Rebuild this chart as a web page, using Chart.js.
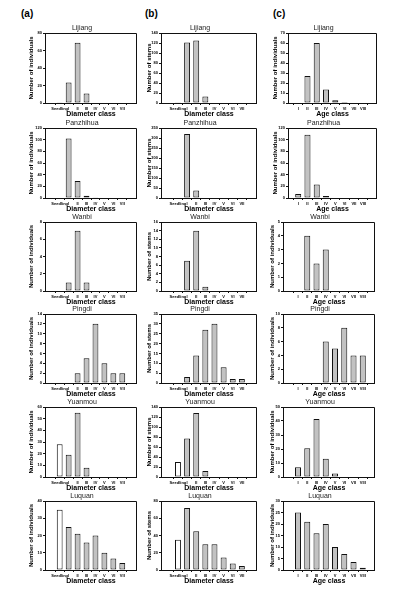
<!DOCTYPE html>
<html><head><meta charset="utf-8">
<script src="https://cdn.jsdelivr.net/npm/chart.js@4.4.1/dist/chart.umd.min.js"></script>
<style>
html,body{margin:0;padding:0;background:#fff;width:393px;height:600px;overflow:hidden;position:relative;}
.panel{position:absolute;font:bold 10px "Liberation Sans",Arial,sans-serif;line-height:12px;color:#000;}
canvas{position:absolute;}
</style></head><body>
<div class="panel" style="left:21px;top:8px">(a)</div>
<div class="panel" style="left:145px;top:8px">(b)</div>
<div class="panel" style="left:273px;top:8px">(c)</div>
<script>
const sites = ["Lijiang","Panzhihua","Wanbi","Pingdi","Yuanmou","Luquan"];
const diameterClasses = ["Seedling","I","II","III","IV","V","VI","VII"];
const ageClasses = ["I","II","III","IV","V","VI","VII","VIII"];

// (a) number of individuals per diameter class
const lijiangIndDiam   = [1, 23.5, 69, 11, 0.5, 0, 0, 0];
const panzhihuaIndDiam = [0, 102, 29, 4, 1.5, 0, 0, 0];
const wanbiIndDiam     = [0, 1, 7, 1, 0, 0, 0, 0];
const pingdiIndDiam    = [0, 0, 2, 5, 12, 4, 2, 2];
const yuanmouIndDiam   = [28, 19, 55, 8, 0, 0, 0, 0];
const luquanIndDiam    = [35, 25, 21, 16, 20, 10, 6.7, 4];
// (b) number of stems per diameter class
const lijiangStems   = [0.5, 121, 125, 13, 1, 0, 0, 0];
const panzhihuaStems = [0, 320, 37, 0, 0, 0, 0, 0];
const wanbiStems     = [0, 7, 14, 1, 0, 0, 0, 0];
const pingdiStems    = [0, 3, 14, 27, 30, 8, 2, 2];
const yuanmouStems   = [30, 77, 128, 12, 0, 0, 0, 0];
const luquanStems    = [35, 72, 45, 30, 30, 14.5, 7.5, 4.5];
// (c) number of individuals per age class
const lijiangAge   = [0, 27, 60, 13.5, 2.7, 1, 0, 0];
const panzhihuaAge = [7, 108.5, 23, 3.5, 0, 0, 0, 0];
const wanbiAge     = [0, 4, 2, 3, 0, 0, 0, 0];
const pingdiAge    = [0, 0, 0, 6, 5, 8, 4, 4];
const yuanmouAge   = [7, 20.5, 41.5, 13, 2.5, 0, 0, 0];
const luquanAge    = [25, 21, 16, 20, 10, 7, 3.5, 1];

// y-axis tick ranges
const indDiamMax  = [80, 120, 8, 14, 60, 40];
const indDiamStep = [20, 20, 2, 2, 10, 10];
const stemsMax    = [140, 350, 16, 35, 140, 80];
const stemsStep   = [20, 50, 2, 5, 20, 20];
const ageMax      = [70, 120, 5, 10, 50, 30];
const ageStep     = [10, 20, 1, 2, 10, 5];

const colA = [lijiangIndDiam, panzhihuaIndDiam, wanbiIndDiam, pingdiIndDiam, yuanmouIndDiam, luquanIndDiam];
const colB = [lijiangStems, panzhihuaStems, wanbiStems, pingdiStems, yuanmouStems, luquanStems];
const colC = [lijiangAge, panzhihuaAge, wanbiAge, pingdiAge, yuanmouAge, luquanAge];

Chart.defaults.font.family = '"Liberation Sans", Arial, sans-serif';

const rowTop = [33, 128, 222, 314, 407, 501];
const rowBot = [103, 198, 291, 383, 477, 570];

const boxPlugin = {
  id: 'boxframe',
  afterDraw(chart) {
    const {ctx, chartArea: a} = chart;
    ctx.save();
    ctx.strokeStyle = '#111';
    ctx.lineWidth = 1;
    ctx.beginPath();
    ctx.moveTo(Math.round(a.left), Math.round(a.top) + 0.5);
    ctx.lineTo(Math.round(a.right) - 0.5, Math.round(a.top) + 0.5);
    ctx.lineTo(Math.round(a.right) - 0.5, Math.round(a.bottom) + 1);
    ctx.stroke();
    ctx.restore();
  }
};

function makeChart(o) {
  const padL = 18, padR = 2, padT = 9, padB = 16;
  const c = document.createElement('canvas');
  const w = o.boxR - o.boxL + padL + padR, h = o.boxB - o.boxT + padT + padB;
  c.width = w; c.height = h;
  c.style.left = (o.boxL - padL) + 'px'; c.style.top = (o.boxT - padT) + 'px';
  c.style.width = w + 'px'; c.style.height = h + 'px';
  document.body.appendChild(c);
  const yTitleLH = 6;
  const grey = '#c2c2c2';
  new Chart(c, {
    type: 'bar',
    data: { datasets: [{
      data: o.values.map((v, i) => ({x: i, y: v})),
      backgroundColor: o.values.map((v, i) => (o.whiteFirst && i === 0) ? '#ffffff' : grey),
      borderColor: '#111', borderWidth: 1, borderSkipped: false,
      categoryPercentage: 1, barPercentage: 0.65
    }]},
    options: {
      responsive: false, animation: false, devicePixelRatio: 1,
      layout: { padding: 0 },
      plugins: {
        legend: { display: false }, tooltip: { enabled: false },
        title: { display: true, text: o.title, color: '#222',
          font: { size: 7, weight: 'normal', lineHeight: 1 }, padding: { top: 1, bottom: 1 } }
      },
      scales: {
        x: {
          type: 'linear', min: o.xMin, max: o.xMax,
          afterBuildTicks: s => { s.ticks = o.labels.map((_, i) => ({ value: i })); },
          afterFit: s => { s.height = padB; },
          ticks: { callback: v => o.labels[v], autoSkip: false, maxRotation: 0, minRotation: 0,
            padding: 1.5, color: '#000', font: { size: 4, weight: 'bold', lineHeight: 1 } },
          grid: { drawOnChartArea: false, drawTicks: true, tickLength: 2, color: '#111' },
          border: { display: true, color: '#111', width: 1 },
          title: { display: true, text: o.xTitle, color: '#000',
            font: { size: 7, weight: 'bold', lineHeight: 1 }, padding: { top: 0, bottom: 1.5 } }
        },
        y: {
          min: 0, max: o.yMax,
          afterFit: s => { s.width = padL; },
          ticks: { stepSize: o.yStep, padding: 1, color: '#000', font: { size: 4, weight: 'bold', lineHeight: 1 } },
          grid: { drawOnChartArea: false, drawTicks: true, tickLength: 2, color: '#111' },
          border: { display: true, color: '#111', width: 1 },
          title: { display: true, text: o.yTitle, color: '#000',
            font: { size: 6, weight: 'bold', lineHeight: 1 },
            padding: { top: Math.max(0, padL - o.yTitleGap - yTitleLH / 2), bottom: 0 } }
        }
      }
    },
    plugins: [boxPlugin]
  });
}

for (let r = 0; r < 6; r++) {
  makeChart({ boxL: 45, boxR: 135, boxT: rowTop[r], boxB: rowBot[r], xMin: -1, xMax: 8,
    labels: diameterClasses, values: colA[r], yMax: indDiamMax[r], yStep: indDiamStep[r],
    title: sites[r], yTitle: 'Number of individuals', xTitle: 'Diameter class', yTitleGap: 14, whiteFirst: true });
  makeChart({ boxL: 161, boxR: 255, boxT: rowTop[r], boxB: rowBot[r], xMin: -1.2, xMax: 8,
    labels: diameterClasses, values: colB[r], yMax: stemsMax[r], yStep: stemsStep[r],
    title: sites[r], yTitle: 'Number of stems', xTitle: 'Diameter class', yTitleGap: 12, whiteFirst: true });
  const narrow = r < 2;
  makeChart({ boxL: narrow ? 288 : 283, boxR: narrow ? 375 : 373, boxT: rowTop[r], boxB: rowBot[r],
    xMin: narrow ? -0.5 : -1, xMax: narrow ? 7.9 : 7.7,
    labels: ageClasses, values: colC[r], yMax: ageMax[r], yStep: ageStep[r],
    title: sites[r], yTitle: 'Number of individuals', xTitle: 'Age class', yTitleGap: narrow ? 13 : 11, whiteFirst: false });
}
</script>
</body></html>
